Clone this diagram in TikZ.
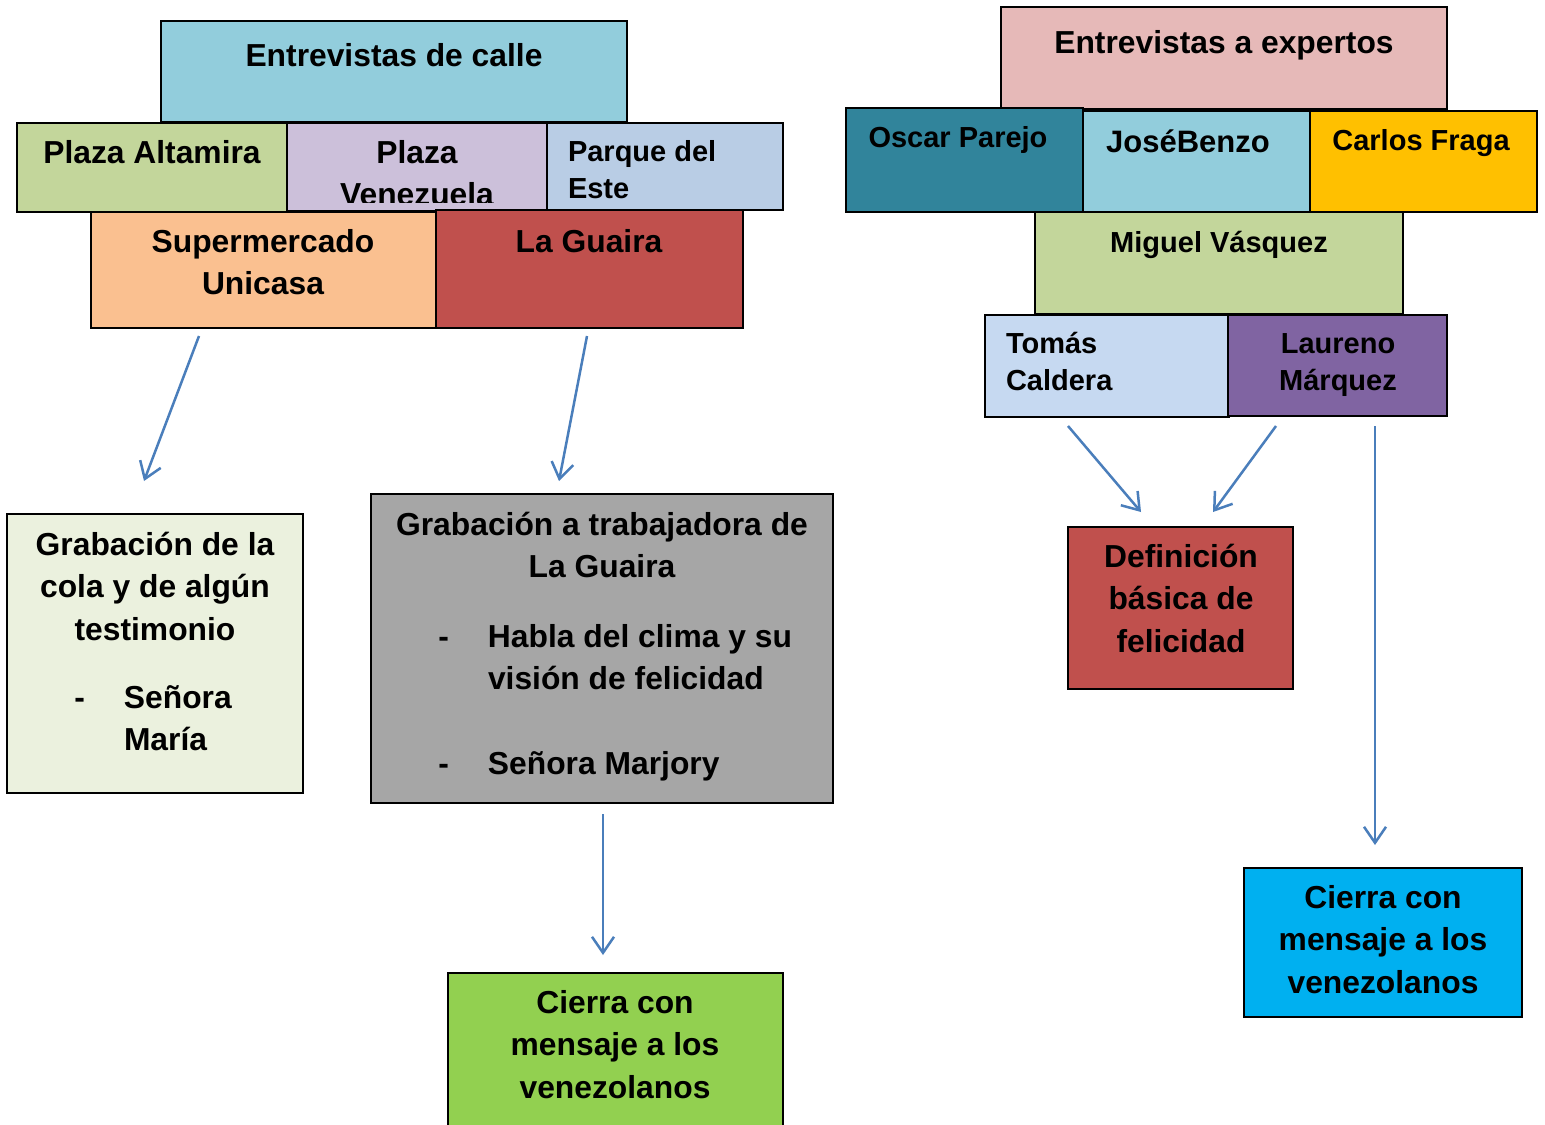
\documentclass[tikz,border=0pt]{standalone}
\usepackage{fontspec}
\setmainfont{Liberation Sans}
\usetikzlibrary{arrows.meta}
\definecolor{cCalle}{HTML}{92CDDC}
\definecolor{cAlta}{HTML}{C3D69B}
\definecolor{cVene}{HTML}{CCC0DA}
\definecolor{cParque}{HTML}{B9CDE5}
\definecolor{cSuper}{HTML}{FAC090}
\definecolor{cRed}{HTML}{C0504D}
\definecolor{cGrabL}{HTML}{EBF1DE}
\definecolor{cGrabR}{HTML}{A6A6A6}
\definecolor{cGreen}{HTML}{92D050}
\definecolor{cExp}{HTML}{E6B9B8}
\definecolor{cOscar}{HTML}{31849B}
\definecolor{cCarlos}{HTML}{FFC000}
\definecolor{cTomas}{HTML}{C6D9F1}
\definecolor{cLaureno}{HTML}{8064A2}
\definecolor{cBlue}{HTML}{00B0F0}
\definecolor{arrowblue}{HTML}{4A7EBB}
\newcommand{\fbig}{\fontsize{15.9pt}{21.25pt}\selectfont\bfseries}
\newcommand{\fmid}{\fontsize{15.5pt}{21pt}\selectfont\bfseries}
\newcommand{\fsml}{\fontsize{14.5pt}{18.75pt}\selectfont\bfseries}
\newcommand{\cblock}[2]{\vtop{\hsize=10cm #1\centering #2\par}}
\newcommand{\lblock}[2]{\vtop{\hsize=10cm #1\raggedright\leavevmode #2\par}}
\newcommand{\dashb}{\leavevmode\llap{-\hspace{19.5pt}}}
\tikzset{
  box/.style={draw=black, line width=1pt, inner sep=0pt, outer sep=0pt, anchor=north west},
  txt/.style={inner sep=0pt, outer sep=0pt, anchor=base, text=black},
  ltxt/.style={inner sep=0pt, outer sep=0pt, anchor=base west, text=black},
  arr/.style={draw=arrowblue, line width=1.25pt, -{Straight Barb[length=8pt,width=11pt]}}
}
\begin{document}
\begin{tikzpicture}[x=0.5pt,y=-0.5pt]
\useasboundingbox (0,0) rectangle (1545,1124);
\clip (0,0) rectangle (1545,1124);
\fill[white] (0,0) rectangle (1545,1124);

% ---------- left group ----------
\node[box, fill=cCalle, minimum width=233pt, minimum height=50.5pt] (calle) at (161,21) {};
\node[box, fill=cAlta, minimum width=135pt, minimum height=44.5pt] (alta) at (17,123) {};
\node[box, fill=cVene, minimum width=130pt, minimum height=44pt] (vene) at (287,123) {};
\node[box, fill=cParque, minimum width=118pt, minimum height=43.5pt] (parque) at (547,123) {};
\node[box, fill=cSuper, minimum width=172.5pt, minimum height=58pt] (super) at (91,212) {};
\node[box, fill=cRed, minimum width=153.5pt, minimum height=59pt] (guaira) at (436,210) {};

\node[txt] (calleT) at (394,66) {\fbig Entrevistas de calle};
\node[txt] (altaT) at (152,163) {\fbig Plaza Altamira};
\begin{scope}
\clip (287,123) rectangle (547,202);
\node[txt] (veneT) at (417,163) {\cblock{\fbig}{Plaza\\Venezuela}};
\end{scope}
\node[ltxt] (parqueT) at (568,161) {\lblock{\fsml}{Parque del\\Este}};
\node[txt] (superT) at (263,252) {\cblock{\fbig}{Supermercado\\Unicasa}};
\node[txt] (guairaT) at (589,252) {\fbig La Guaira};

\node[box, fill=cGrabL, minimum width=148pt, minimum height=139.5pt] (grabL) at (7,514) {};
\node[txt] (grabLT) at (155,555) {\cblock{\fbig}{Grabación de la\\cola y de algún\\testimonio}};
\node[ltxt] (grabLB) at (124,708) {\lblock{\fbig}{\dashb Señora\\María}};

\node[box, fill=cGrabR, minimum width=231pt, minimum height=154.5pt] (grabR) at (371,494) {};
\node[txt] (grabRT) at (602,535) {\cblock{\fbig}{Grabación a trabajadora de\\La Guaira}};
\node[ltxt] (grabRB) at (488,647) {\lblock{\fbig}{\dashb Habla del clima y su\\visión de felicidad\\\mbox{}\\\dashb Señora Marjory}};

\node[box, fill=cGreen, minimum width=167.5pt, minimum height=85pt] (cierraG) at (448,973) {};
\node[txt] (cierraGT) at (615,1013) {\cblock{\fbig}{Cierra con\\mensaje a los\\venezolanos}};

\draw[arr] ([shift={(108,8)}]super.south west) -- ([shift={(137,-33)}]grabL.north west);
\draw[arr] ([shift={(151,8)}]guaira.south west) -- ([shift={(188,-13)}]grabR.north west);
\draw[arr] ([shift={(232,11)}]grabR.south west) -- ([shift={(155,-18)}]cierraG.north west);

% ---------- right group ----------
\node[box, fill=cExp, minimum width=223pt, minimum height=51pt] (expertos) at (1001,7) {};
\node[box, fill=cCalle, minimum width=113.5pt, minimum height=50.5pt] (jose) at (1083,111) {};
\node[box, fill=cCarlos, minimum width=113.5pt, minimum height=50.5pt] (carlos) at (1310,111) {};
\node[box, fill=cOscar, minimum width=118.5pt, minimum height=52pt] (oscar) at (846,108) {};
\node[box, fill=cAlta, minimum width=184pt, minimum height=51pt] (miguel) at (1035,212) {};
\node[box, fill=cTomas, minimum width=122pt, minimum height=51pt] (tomas) at (985,315) {};
\node[box, fill=cLaureno, minimum width=109.5pt, minimum height=50.5pt] (laureno) at (1228,315) {};

\node[txt] (expertosT) at (1224,53) {\fbig Entrevistas a expertos};
\node[txt] (oscarT) at (958,147) {\fsml Oscar Parejo};
\node[txt] (joseT) at (1188,152) {\fmid JoséBenzo};
\node[txt] (carlosT) at (1421,150) {\fsml Carlos Fraga};
\node[txt] (miguelT) at (1219,252) {\fsml Miguel Vásquez};
\node[ltxt] (tomasT) at (1006,353) {\lblock{\fsml}{Tomás\\Caldera}};
\node[txt] (laurenoT) at (1338,353) {\cblock{\fsml}{Laureno\\Márquez}};

\node[box, fill=cRed, minimum width=112.5pt, minimum height=81pt] (def) at (1068,527) {};
\node[txt] (defT) at (1181,567) {\cblock{\fbig}{Definición\\básica de\\felicidad}};

\node[box, fill=cBlue, minimum width=139pt, minimum height=74.5pt] (cierraB) at (1244,868) {};
\node[txt] (cierraBT) at (1383,908) {\cblock{\fbig}{Cierra con\\mensaje a los\\venezolanos}};

\draw[arr] ([shift={(83,9)}]tomas.south west) -- ([shift={(73,-15)}]def.north west);
\draw[arr] ([shift={(48,10)}]laureno.south west) -- ([shift={(145,-15)}]def.north west);
\draw[arr] ([shift={(147,10)}]laureno.south west) -- ([shift={(131,-23)}]cierraB.north west);
\end{tikzpicture}
\end{document}
